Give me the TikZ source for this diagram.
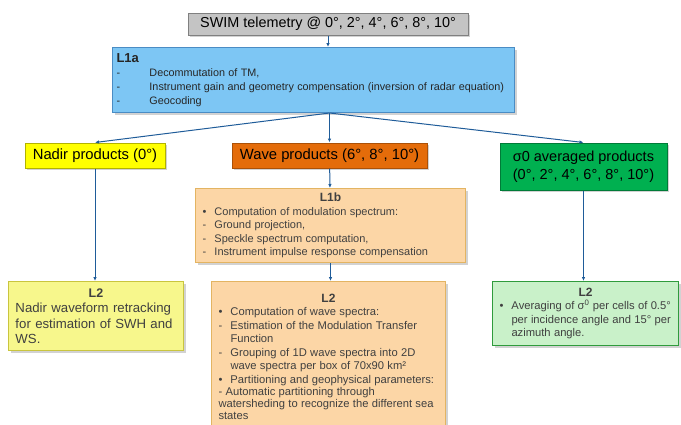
\documentclass[tikz,border=0pt]{standalone}
\usepackage{fontspec}
\setmainfont{Liberation Sans}
\usetikzlibrary{positioning,arrows.meta,shadows}

\definecolor{swimgray}{HTML}{C4C4C4}
\definecolor{lablue}{HTML}{7DC6F4}
\definecolor{lablueline}{HTML}{4A8CC4}
\definecolor{nadiry}{HTML}{FFFF00}
\definecolor{waveor}{HTML}{E46C0A}
\definecolor{siggreen}{HTML}{00B050}
\definecolor{peach}{HTML}{FCD6A6}
\definecolor{peachline}{HTML}{E3B462}
\definecolor{paley}{HTML}{F7F78C}
\definecolor{paleyline}{HTML}{C9C53E}
\definecolor{paleg}{HTML}{C9F1C9}
\definecolor{palegline}{HTML}{2F9B3C}
\definecolor{arrblue}{HTML}{1F5C99}
\definecolor{txtgray}{HTML}{404040}

\newlength{\itemind}
\newcommand{\litem}[2]{\noindent\hangindent=\itemind\hangafter=1\makebox[\itemind][l]{#1}#2\par}

\begin{document}
\begin{tikzpicture}[x=1pt, y=-1pt,
  box/.style={draw, line width=1pt, inner xsep=7pt, inner ysep=3pt, drop shadow={shadow xshift=2pt, shadow yshift=-2pt, fill=black!35}},
  head/.style={box, align=center, inner ysep=2pt},
  note/.style={box, align=left, anchor=north west, text=txtgray},
  arr/.style={-{Latex[length=4pt, width=3.5pt]}, draw=arrblue, line width=1pt}]
  \useasboundingbox (0,0) rectangle (681,424);

  % top level
  \node[head, fill=swimgray, draw=gray, minimum width=280, minimum height=22, font=\fontsize{14.4}{16}\selectfont] (swim) at (328,24) {SWIM telemetry @ 0°, 2°, 4°, 6°, 8°, 10°};
  \node[note, fill=lablue, draw=lablueline, text=black!85, inner xsep=4pt, text width=394, minimum height=65] (l1a) at (112,47)
    {\setlength{\itemind}{33pt}{\fontsize{13}{14}\selectfont\bfseries L1a\par}\fontsize{10.8}{14}\selectfont
     \litem{-}{Decommutation of TM,}
     \litem{-}{Instrument gain and geometry compensation (inversion of radar equation)}
     \litem{-}{Geocoding}};
  \draw[arr] (swim) -- (l1a.north -| swim.south);

  % product types
  \node[head, fill=nadiry, draw=nadiry!70!black, minimum width=140, minimum height=25, font=\fontsize{14.8}{16}\selectfont] (nadir) at (95,155.5) {Nadir products (0°)};
  \node[head, fill=waveor, draw=waveor!75!black, minimum width=195, minimum height=25, font=\fontsize{14.8}{16}\selectfont] (wave) at (329.5,155.5) {Wave products (6°, 8°, 10°)};
  \node[head, fill=siggreen, draw=siggreen!70!black, align=left, minimum width=167, minimum height=47, font=\fontsize{14.5}{18}\selectfont] (sigma) at (583.5,166.5) {σ0 averaged products\\(0°, 2°, 4°, 6°, 8°, 10°)};
  \foreach \n in {nadir,wave,sigma} \draw[arr] (l1a.south -| wave.north) -- (\n.north);

  % L1b
  \node[note, fill=peach, draw=peachline, text width=256, minimum height=74] (l1b) at (195,188)
    {\setlength{\itemind}{12pt}\makebox[\linewidth]{\fontsize{12}{13.5}\selectfont\bfseries L1b}\par\fontsize{11}{13.5}\selectfont
     \litem{•}{Computation of modulation spectrum:}
     \litem{-}{Ground projection,}
     \litem{-}{Speckle spectrum computation,}
     \litem{-}{Instrument impulse response compensation}};
  \draw[arr] (wave) -- (l1b);

  % L2
  \node[note, fill=paley, draw=paleyline, text width=161, minimum height=69, font=\fontsize{13.2}{15.5}\selectfont] (l2nadir) at (8,281)
    {\makebox[\linewidth]{\fontsize{12.5}{15.5}\selectfont\bfseries L2}\par Nadir waveform retracking\newline for estimation of SWH and\newline WS.};
  \node[note, fill=peach, draw=peachline, text width=220, minimum height=150] (l2wave) at (211,281)
    {\setlength{\itemind}{12pt}\makebox[\linewidth]{\fontsize{12}{13.5}\selectfont\bfseries L2}\par\fontsize{11.2}{13.5}\selectfont
     \litem{•}{Computation of wave spectra:}
     \litem{-}{Estimation of the Modulation Transfer\newline Function}
     \litem{-}{Grouping of 1D wave spectra into 2D\newline wave spectra per box of 70x90 km²}
     \litem{•}{Partitioning and geophysical parameters:}
     \noindent - Automatic partitioning through\newline watersheding to recognize the different sea\newline states};
  \node[note, fill=paleg, draw=palegline, text width=172, minimum height=64] (l2sigma) at (492,281)
    {\setlength{\itemind}{12pt}\makebox[\linewidth]{\fontsize{12}{13.5}\selectfont\bfseries L2}\par\fontsize{11.2}{13.5}\selectfont
     \litem{•}{Averaging of σ\textsuperscript{0} per cells of 0.5°\newline per incidence angle and 15° per\newline azimuth angle.}};
  \draw[arr] (nadir) -- (l2nadir.north -| nadir.south);
  \draw[arr] (l1b) -- (l2wave.north -| l1b.south);
  \draw[arr] (sigma) -- (l2sigma.north -| sigma.south);
\end{tikzpicture}
\end{document}
